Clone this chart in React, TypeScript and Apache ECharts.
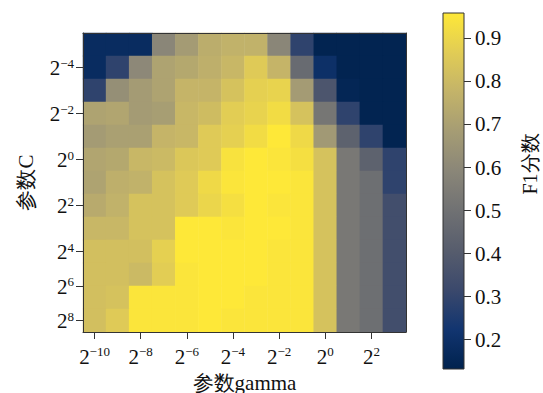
import React, { useEffect, useRef } from "react";
import * as echarts from "echarts";

// gamma exponents (columns) and C rows (top to bottom)
const gammaExps = [-10, -9, -8, -7, -6, -5, -4, -3, -2, -1, 0, 1, 2, 3];
const cRows = ["r0", "r1", "r2", "r3", "r4", "r5", "r6", "r7", "r8", "r9", "r10", "r11", "r12"];

// F1 scores, one row per C row (top to bottom), one value per gamma column
const f1Row0 = [0.18, 0.18, 0.18, 0.59, 0.68, 0.75, 0.77, 0.77, 0.59, 0.29, 0.14, 0.14, 0.14, 0.14];
const f1Row1 = [0.18, 0.29, 0.6, 0.71, 0.73, 0.76, 0.79, 0.86, 0.78, 0.47, 0.2, 0.14, 0.14, 0.14];
const f1Row2 = [0.29, 0.63, 0.68, 0.71, 0.78, 0.78, 0.83, 0.88, 0.89, 0.68, 0.37, 0.15, 0.14, 0.14];
const f1Row3 = [0.71, 0.72, 0.68, 0.69, 0.79, 0.81, 0.87, 0.89, 0.92, 0.83, 0.52, 0.29, 0.14, 0.14];
const f1Row4 = [0.68, 0.7, 0.7, 0.78, 0.79, 0.86, 0.88, 0.92, 0.96, 0.91, 0.67, 0.43, 0.29, 0.14];
const f1Row5 = [0.72, 0.73, 0.79, 0.8, 0.85, 0.86, 0.94, 0.96, 0.95, 0.93, 0.83, 0.53, 0.43, 0.29];
const f1Row6 = [0.71, 0.76, 0.77, 0.83, 0.86, 0.91, 0.95, 0.96, 0.96, 0.95, 0.83, 0.53, 0.49, 0.29];
const f1Row7 = [0.74, 0.77, 0.83, 0.83, 0.86, 0.9, 0.93, 0.96, 0.95, 0.95, 0.83, 0.53, 0.49, 0.34];
const f1Row8 = [0.79, 0.79, 0.83, 0.83, 0.96, 0.96, 0.95, 0.96, 0.96, 0.95, 0.83, 0.53, 0.49, 0.34];
const f1Row9 = [0.82, 0.82, 0.82, 0.88, 0.96, 0.96, 0.96, 0.96, 0.95, 0.95, 0.83, 0.53, 0.49, 0.34];
const f1Row10 = [0.82, 0.82, 0.8, 0.87, 0.95, 0.96, 0.96, 0.96, 0.95, 0.95, 0.83, 0.53, 0.49, 0.34];
const f1Row11 = [0.82, 0.83, 0.95, 0.95, 0.95, 0.96, 0.96, 0.95, 0.95, 0.95, 0.83, 0.53, 0.49, 0.34];
const f1Row12 = [0.82, 0.86, 0.95, 0.95, 0.95, 0.96, 0.95, 0.95, 0.95, 0.95, 0.83, 0.53, 0.49, 0.34];
const f1Rows = [f1Row0, f1Row1, f1Row2, f1Row3, f1Row4, f1Row5, f1Row6, f1Row7, f1Row8, f1Row9, f1Row10, f1Row11, f1Row12];

// tick labels
const xTickExps = [-10, -8, -6, -4, -2, 0, 2];
const yTickRowPos = [1, 3, 5, 7, 9, 10.5, 12];
const yTickExps = [-4, -2, 0, 2, 4, 6, 8];
const cbTicks = [0.2, 0.3, 0.4, 0.5, 0.6, 0.7, 0.8, 0.9];
const cbMin = 0.132;
const cbMax = 0.959;

// matplotlib cividis
const cividis = ["#00224e", "#123570", "#3b496c", "#575d6d", "#707173", "#8a8678", "#a59c74", "#c3b369", "#e1cc55", "#fee838"];

const FONT = "Times New Roman";

const expLabel = (e: number) => `{b|2}{s|${e < 0 ? "\u2212" + Math.abs(e) : e}}`;
const richExp = {
  b: { fontSize: 21, fontFamily: FONT, color: "#111", lineHeight: 22, verticalAlign: "bottom" },
  s: { fontSize: 13, fontFamily: FONT, color: "#111", lineHeight: 13, verticalAlign: "top" },
};

export default function App() {
  const ref = useRef<HTMLDivElement>(null);
  useEffect(() => {
    if (!ref.current) return;
    const chart = echarts.init(ref.current, null, { renderer: "svg" });
    const heatData: number[][] = [];
    f1Rows.forEach((row, ri) => row.forEach((v, ci) => heatData.push([ci, ri, v])));
    const stops = cividis.map((c, i) => ({ offset: i / (cividis.length - 1), color: c }));
    const frameLine = { show: true, onZero: false, lineStyle: { color: "#333", width: 1 } };
    chart.setOption({
      animation: false,
      backgroundColor: "#fff",
      textStyle: { fontFamily: FONT },
      grid: [
        { left: 83, top: 33, width: 323, height: 299, outerBoundsMode: "none", containLabel: false },
        { left: 443, top: 13, width: 21, height: 356, outerBoundsMode: "none", containLabel: false },
      ],
      xAxis: [
        { gridIndex: 0, type: "category", data: gammaExps.map(String), show: false },
        {
          gridIndex: 0, type: "value", min: -10.5, max: 3.5, position: "bottom", z: 10,
          axisLine: frameLine,
          splitLine: { show: false },
          axisTick: { show: true, length: 7, lineStyle: { color: "#333" }, customValues: xTickExps },
          axisLabel: { customValues: xTickExps, margin: 13, formatter: (v: number) => expLabel(v), rich: richExp },
          name: "参数gamma", nameLocation: "middle", nameGap: 40,
          nameTextStyle: { fontSize: 21, fontFamily: FONT, color: "#111" },
        },
        {
          gridIndex: 0, type: "value", min: -10.5, max: 3.5, position: "top", z: 10,
          axisLine: frameLine, axisTick: { show: false }, axisLabel: { show: false }, splitLine: { show: false },
        },
        { gridIndex: 1, type: "category", data: ["F1"], show: false },
      ],
      yAxis: [
        { gridIndex: 0, type: "category", data: cRows, inverse: true, show: false },
        {
          gridIndex: 0, type: "value", min: -0.5, max: 12.5, inverse: true, position: "left", z: 10,
          axisLine: frameLine,
          splitLine: { show: false },
          axisTick: { show: true, length: 7, lineStyle: { color: "#333" }, customValues: yTickRowPos },
          axisLabel: {
            customValues: yTickRowPos, margin: 9,
            formatter: (v: number) => {
              const i = yTickRowPos.findIndex((p) => Math.abs(p - v) < 1e-6);
              return i >= 0 ? expLabel(yTickExps[i]) : "";
            },
            rich: richExp,
          },
          name: "参数C", nameLocation: "middle", nameGap: 47, nameRotate: 90,
          nameTextStyle: { fontSize: 21, fontFamily: FONT, color: "#111" },
        },
        {
          gridIndex: 0, type: "value", min: -0.5, max: 12.5, position: "right", z: 10,
          axisLine: frameLine, axisTick: { show: false }, axisLabel: { show: false }, splitLine: { show: false },
        },
        {
          gridIndex: 1, type: "value", min: cbMin, max: cbMax, position: "right", z: 10,
          axisLine: { show: false },
          splitLine: { show: false },
          axisTick: { show: true, length: 7, lineStyle: { color: "#333" }, customValues: cbTicks },
          axisLabel: {
            customValues: cbTicks, margin: 11, fontSize: 21, fontFamily: FONT, color: "#111",
            formatter: (v: number) => v.toFixed(1),
          },
        },
      ],
      visualMap: {
        type: "continuous", show: false, min: cbMin, max: cbMax, dimension: 2, seriesIndex: 0,
        inRange: { color: cividis },
      },
      graphic: [
        {
          type: "text", x: 530, y: 164, rotation: Math.PI / 2,
          style: { text: "F1分数", fontSize: 20, fontFamily: FONT, fill: "#111", textAlign: "center", textVerticalAlign: "middle" },
        },
      ],
      series: [
        {
          type: "heatmap", xAxisIndex: 0, yAxisIndex: 0, data: heatData,
          itemStyle: { borderWidth: 0 },
          emphasis: { disabled: true },
        },
        {
          type: "custom", xAxisIndex: 3, yAxisIndex: 3, data: [[0, cbMin, cbMax]],
          renderItem: (params: any, api: any) => {
            const bottom = api.coord([0, api.value(1)]);
            const top = api.coord([0, api.value(2)]);
            const w = api.size([1, 0])[0];
            return {
              type: "rect",
              shape: { x: top[0] - w / 2, y: top[1], width: w, height: bottom[1] - top[1] },
              style: { fill: new echarts.graphic.LinearGradient(0, 1, 0, 0, stops), stroke: "#333", lineWidth: 1 },
            };
          },
        },
      ],
    });
    return () => chart.dispose();
  }, []);
  return <div ref={ref} style={{ width: 543, height: 393, position: "absolute", left: 0, top: 0 }} />;
}
